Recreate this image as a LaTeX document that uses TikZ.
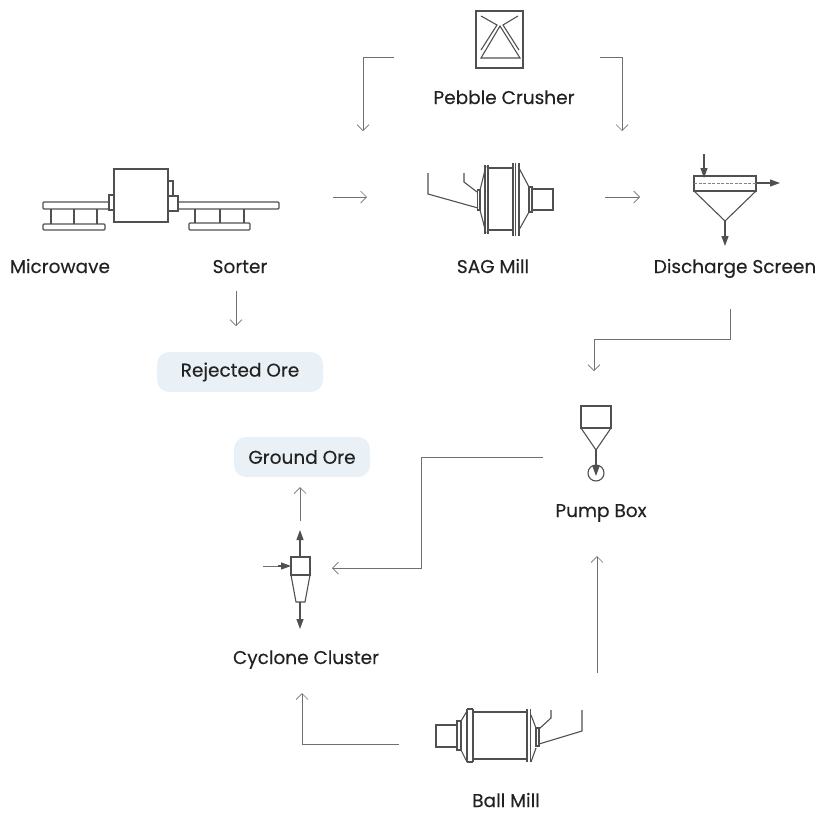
\documentclass[tikz,border=0pt]{standalone}
\usepackage{fontspec}
\setmainfont{Poppins}[FakeBold=0.25]
\usetikzlibrary{arrows.meta}
\definecolor{ink}{HTML}{505050}
\definecolor{conn}{HTML}{707070}
\definecolor{pill}{HTML}{E9F0F6}
\definecolor{txt}{HTML}{222222}
\tikzset{
 lbl/.style={font=\fontsize{18.5}{20}\selectfont,text=txt,inner sep=0pt,anchor=base},
 pillbox/.style={fill=pill,rounded corners=12pt,font=\fontsize{18.5}{20}\selectfont,text=txt,inner sep=0pt},
 flow/.style={draw=conn,line width=0.75pt,-{Straight Barb[length=6pt,width=12pt,line width=0.7pt]}},
 sym/.style={draw=ink,line width=1.1pt,line join=miter},
 heavy/.style={draw=ink,line width=1.5pt},
 tiparrow/.style={draw=ink,line width=1.1pt,-{Triangle[length=10pt,width=7pt,fill=ink]}},
}
\begin{document}
\begin{tikzpicture}[x=1pt,y=-1pt]
\useasboundingbox (0,0) rectangle (817,812);
% labels
\node[lbl] (lpc) at (504,104) {Pebble Crusher};
\node[lbl] (lmw) at (60,273) {Microwave};
\node[lbl] (lso) at (240,273) {Sorter};
\node[lbl] (lsag) at (493,273) {SAG Mill};
\node[lbl] (lds) at (735,273) {Discharge Screen};
\node[lbl] (lpb) at (601,517) {Pump Box};
\node[lbl] (lcc) at (306,664) {Cyclone Cluster};
\node[lbl] (lbm) at (506,807) {Ball Mill};
\node[pillbox,minimum width=166pt,minimum height=40pt] (rej) at (240,372) {Rejected Ore};
\node[pillbox,minimum width=136pt,minimum height=40pt] (gro) at (302,457) {Ground Ore};
% free ends of connectors
\coordinate (a1) at (394,57); \coordinate (a1t) at (363,131);
\coordinate (a2) at (600,57); \coordinate (a2t) at (622,131);
\coordinate (a3) at (333,197); \coordinate (a3t) at (367,197);
\coordinate (a4) at (605,197); \coordinate (a4t) at (640,197);
\coordinate (a5) at (236,291); \coordinate (a5t) at (236,326);
\coordinate (a6) at (730,309); \coordinate (a6t) at (594,371);
\coordinate (a7) at (543,457); \coordinate (a7t) at (332,568);
\coordinate (a8) at (597,673); \coordinate (a8t) at (597,556);
\coordinate (a9) at (399,744); \coordinate (a9t) at (302,693);
\coordinate (a10) at (300,521); \coordinate (a10t) at (300,487);
% connectors
\draw[flow] (a1) -- (363,57) -- (a1t);
\draw[flow] (a2) -- (622,57) -- (a2t);
\draw[flow] (a3) -- (a3t);
\draw[flow] (a4) -- (a4t);
\draw[flow] (a5) -- (a5t);
\draw[flow] (a6) -- (730,339) -- (594,339) -- (a6t);
\draw[flow] (a7) -- (421,457) -- (421,568) -- (a7t);
\draw[flow] (a8) -- (a8t);
\draw[flow] (a9) -- (302,744) -- (a9t);
\draw[flow] (a10) -- (a10t);
% pebble crusher
\draw[sym] (476,11) rectangle (523,68);
\draw[sym] (481,16) -- (497,25) -- (481,50);
\draw[sym] (518,16) -- (503,25) -- (519,50);
\draw[sym] (500,26) -- (520,58) -- (481,58) -- cycle;
% microwave sorter
\draw[sym,rounded corners=1pt] (43,202) rectangle (109,209);
\draw[sym,rounded corners=1pt] (43,224) rectangle (105,230);
\draw[sym] (51,209) -- (51,224) (74,209) -- (74,224) (97,209) -- (97,224);
\draw[sym] (109,195) rectangle (114,210);
\draw[sym,fill=white] (114,169) rectangle (168,222);
\draw[sym] (168,181) -- (173,181) -- (173,196);
\draw[sym] (168,196) rectangle (178,211);
\draw[sym,rounded corners=1pt] (178,202) rectangle (279,209);
\draw[sym,rounded corners=1pt] (189,223) rectangle (250,230);
\draw[sym] (195,209) -- (195,223) (220,209) -- (220,223) (244,209) -- (244,223);
% SAG mill
\draw[sym] (428,173) -- (428,194) -- (478,208);
\draw[sym] (464,173) -- (464,182) -- (477,192);
\draw[heavy] (477.5,190) rectangle (480,210);
\draw[sym] (480,190) -- (486,166) (480,210) -- (486,233);
\draw[heavy] (485,165) -- (485,234) (488,165) -- (488,234);
\draw[sym] (488,168) -- (514,168) (488,230) -- (514,230);
\draw[heavy] (513,163) -- (513,236) (515.5,163) -- (515.5,236);
\draw[sym] (519,163) -- (519,236);
\draw[sym] (519,168) -- (529,187) (519,230) -- (529,212);
\draw[heavy] (529,187) rectangle (532,212);
\draw[sym] (532,189) rectangle (553,210);
% discharge screen
\draw[sym] (694,176) rectangle (756,191);
\draw[draw=ink!70,line width=0.9pt,dashed,dash pattern=on 3pt off 1.5pt] (694,183) -- (756,183);
\draw[sym] (694,191) -- (725,221) -- (756,191);
\draw[tiparrow] (704,154) -- (704,178);
\draw[tiparrow] (756,183) -- (780,183);
\draw[tiparrow] (725,221) -- (725,246);
% pump box
\draw[sym] (581,406) rectangle (611,428);
\draw[sym] (581,428) -- (596,450) -- (611,428);
\draw[sym] (596,473) ellipse [radius=8pt];
\draw[tiparrow] (596,450) -- (596,476);
% cyclone
\draw[sym] (291,557) rectangle (310,575);
\draw[sym] (291,575) -- (310,575) -- (305,602) -- (296,602) -- cycle;
\draw[tiparrow] (300,557) -- (300,530);
\draw[tiparrow] (300,602) -- (300,629);
\draw[conn,line width=0.8pt] (263,566) -- (280,566);
\draw[tiparrow] (278,566) -- (291,566);
% ball mill
\draw[sym] (582,710) -- (582,731) -- (539,744);
\draw[sym] (551,710) -- (551,718) -- (539,729);
\draw[heavy] (536,728) rectangle (539,746);
\draw[sym] (536,728) -- (531,715) (536,748) -- (531,762);
\draw[heavy] (527,709) -- (527,762) (530.5,709) -- (530.5,762);
\draw[sym] (473,712) -- (527,712) (473,759) -- (527,759);
\draw[heavy] (467,709) -- (467,762) (473,709) -- (473,762);
\draw[sym] (467,709) -- (473,709) (467,762) -- (473,762);
\draw[sym] (461,721) -- (467,711) (461,750) -- (467,762);
\draw[heavy] (457,721) rectangle (461,750);
\draw[sym] (436,725) rectangle (457,747);
\end{tikzpicture}
\end{document}
